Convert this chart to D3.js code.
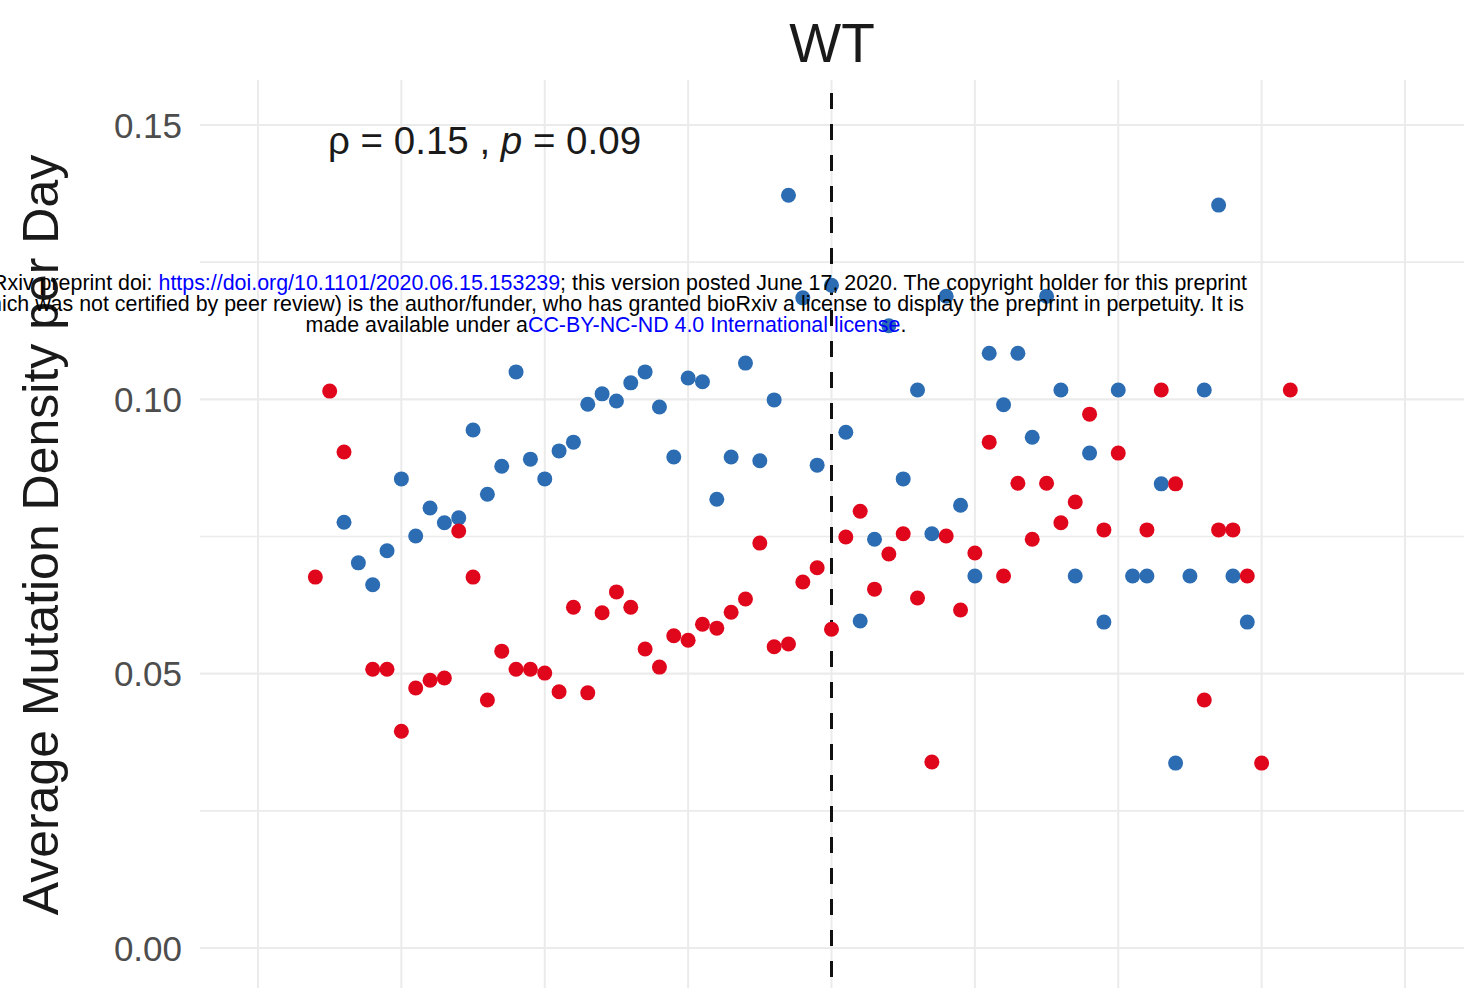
<!DOCTYPE html>
<html>
<head>
<meta charset="utf-8">
<script src="https://cdn.jsdelivr.net/npm/d3@7"></script>
<style>
  html, body { margin: 0; padding: 0; background: #ffffff; }
  svg { display: block; font-family: "Liberation Sans", Arial, sans-serif; }
</style>
</head>
<body>
<svg id="chart" width="1464" height="988"></svg>
<script>
// ---------- data ----------
const chartTitle = "WT";
const yAxisTitle = "Average Mutation Density per Day";
const yTicks = [0.00, 0.05, 0.10, 0.15];
const yTickLabels = ["0.00", "0.05", "0.10", "0.15"];
const yMinorTicks = [0.025, 0.075, 0.125];
const xGridTicks = [0, 10, 20, 30, 40, 50, 60, 70, 80];
const cutoffDay = 40;

const redDays = [4,5,6,8,9,10,11,12,13,14,15,16,17,18,19,20,21,22,23,24,25,26,27,28,29,30,31,32,33,34,35,36,37,38,39,40,41,42,43,44,45,46,47,48,49,50,51,52,53,54,55,56,57,58,59,60,62,63,64,66,67,68,69,70,72];
const redValues = [0.0676,0.1015,0.0904,0.0508,0.0508,0.0395,0.0474,0.0488,0.0492,0.0760,0.0676,0.0452,0.0541,0.0508,0.0508,0.0501,0.0467,0.0621,0.0465,0.0611,0.0649,0.0621,0.0545,0.0512,0.0569,0.0561,0.0590,0.0583,0.0612,0.0636,0.0738,0.0549,0.0554,0.0667,0.0693,0.0581,0.0749,0.0796,0.0654,0.0718,0.0755,0.0638,0.0339,0.0751,0.0616,0.0720,0.0922,0.0678,0.0847,0.0745,0.0847,0.0775,0.0813,0.0973,0.0762,0.0902,0.0762,0.1017,0.0846,0.0452,0.0762,0.0762,0.0678,0.0337,0.1017];

const blueDays = [6,7,8,9,10,11,12,13,14,15,16,17,18,19,20,21,22,23,24,25,26,27,28,29,30,31,32,33,34,35,36,37,38,39,40,41,42,43,44,45,46,47,48,49,50,51,52,53,54,55,56,57,58,59,60,61,62,63,64,65,66,67,68,69];
const blueValues = [0.0776,0.0702,0.0662,0.0724,0.0855,0.0751,0.0802,0.0775,0.0784,0.0944,0.0827,0.0878,0.1050,0.0891,0.0855,0.0906,0.0922,0.0991,0.1010,0.0997,0.1030,0.1050,0.0986,0.0895,0.1039,0.1032,0.0818,0.0895,0.1066,0.0888,0.0999,0.1372,0.1185,0.0880,0.1208,0.0940,0.0596,0.0745,0.1134,0.0855,0.1017,0.0755,0.1188,0.0807,0.0678,0.1084,0.0990,0.1084,0.0931,0.1188,0.1017,0.0678,0.0902,0.0594,0.1017,0.0678,0.0678,0.0846,0.0337,0.0678,0.1017,0.1354,0.0678,0.0594];

const annotationRho = "0.15";
const annotationP = "0.09";

const watermarkLine1 = [
  {t: "bioRxiv preprint doi: ", link: false},
  {t: "https://doi.org/10.1101/2020.06.15.153239", link: true},
  {t: "; this version posted June 17, 2020. The copyright holder for this preprint", link: false}
];
const watermarkLine2 = [
  {t: "(which was not certified by peer review) is the author/funder, who has granted bioRxiv a license to display the preprint in perpetuity. It is", link: false}
];
const watermarkLine3 = [
  {t: "made available under a", link: false},
  {t: "CC-BY-NC-ND 4.0 International license", link: true},
  {t: ".", link: false}
];

// ---------- layout ----------
const svg = d3.select("#chart");
const panel = {left: 200, right: 1470, top: 80, bottom: 995};

const x = d3.scaleLinear().domain([0, 80]).range([258, 1405]);
const y = d3.scaleLinear().domain([0, 0.15]).range([948, 125]);

const gridColor = "#ebebeb";

// grid
const grid = svg.append("g");
grid.selectAll("line.hminor").data(yMinorTicks).enter().append("line")
  .attr("x1", panel.left).attr("x2", panel.right)
  .attr("y1", d => y(d)).attr("y2", d => y(d))
  .attr("stroke", gridColor).attr("stroke-width", 1.6);
grid.selectAll("line.hmajor").data(yTicks).enter().append("line")
  .attr("x1", panel.left).attr("x2", panel.right)
  .attr("y1", d => y(d)).attr("y2", d => y(d))
  .attr("stroke", gridColor).attr("stroke-width", 2.2);
grid.selectAll("line.v").data(xGridTicks).enter().append("line")
  .attr("x1", d => x(d)).attr("x2", d => x(d))
  .attr("y1", panel.top).attr("y2", panel.bottom)
  .attr("stroke", gridColor).attr("stroke-width", 2);

// y axis tick labels
svg.append("g").selectAll("text").data(yTicks).enter().append("text")
  .attr("x", 182).attr("y", d => y(d))
  .attr("dy", "0.36em")
  .attr("text-anchor", "end")
  .attr("font-size", 35)
  .attr("fill", "#4d4d4d")
  .text((d, i) => yTickLabels[i]);

// y axis title
svg.append("text")
  .attr("transform", "translate(58,535) rotate(-90)")
  .attr("text-anchor", "middle")
  .attr("font-size", 50)
  .attr("fill", "#1a1a1a")
  .text(yAxisTitle);

// title
svg.append("text")
  .attr("x", 832).attr("y", 62)
  .attr("text-anchor", "middle")
  .attr("font-size", 55)
  .attr("fill", "#1a1a1a")
  .text(chartTitle);

// dashed cutoff line
svg.append("line")
  .attr("x1", x(cutoffDay)).attr("x2", x(cutoffDay))
  .attr("y1", 93).attr("y2", panel.bottom)
  .attr("stroke", "#111").attr("stroke-width", 3)
  .attr("stroke-dasharray", "16,15");

// points
const blueColor = "#2b6cb2";
const redColor = "#e0061c";
const r = 7.5;
svg.append("g").selectAll("circle").data(blueDays.map((d, i) => [d, blueValues[i]])).enter()
  .append("circle")
  .attr("cx", d => x(d[0])).attr("cy", d => y(d[1])).attr("r", r)
  .attr("fill", blueColor);
svg.append("g").selectAll("circle").data(redDays.map((d, i) => [d, redValues[i]])).enter()
  .append("circle")
  .attr("cx", d => x(d[0])).attr("cy", d => y(d[1])).attr("r", r)
  .attr("fill", redColor);

// annotation
const ann = svg.append("text")
  .attr("x", 328).attr("y", 154)
  .attr("font-size", 38.5)
  .attr("fill", "#1a1a1a");
ann.append("tspan").text("\u03C1 = " + annotationRho + " , ");
ann.append("tspan").attr("font-style", "italic").text("p");
ann.append("tspan").text(" = " + annotationP);

// watermark
function wmLine(parts, xPos, yPos, anchor) {
  const t = svg.append("text")
    .attr("x", xPos).attr("y", yPos)
    .attr("text-anchor", anchor)
    .attr("font-size", 21.4)
    .attr("fill", "#000");
  parts.forEach(p => t.append("tspan").attr("fill", p.link ? "#0000ff" : "#000").text(p.t));
}
wmLine(watermarkLine1, 1247, 290, "end");
wmLine(watermarkLine2, 1244, 311, "end");
wmLine(watermarkLine3, 606, 332, "middle");
</script>
</body>
</html>
